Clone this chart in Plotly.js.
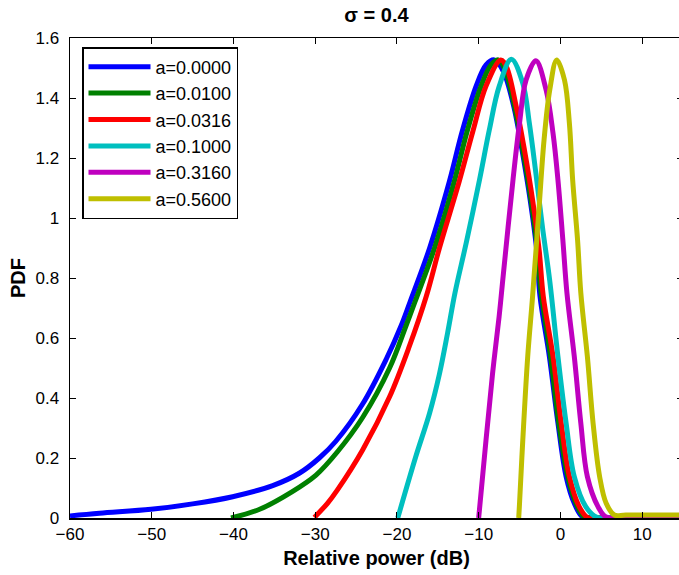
<!DOCTYPE html>
<html>
<head>
<meta charset="utf-8">
<script src="https://cdn.plot.ly/plotly-3.0.1.min.js"></script>
<style>
html, body { margin: 0; padding: 0; overflow: hidden; background: #fff; }
#chart { width: 683px; height: 575px; }
</style>
</head>
<body>
<div id="chart"></div>
<script>
// Series names
const seriesNames = ['a=0.0000', 'a=0.0100', 'a=0.0316', 'a=0.1000', 'a=0.3160', 'a=0.5600'];

// a = 0.0000 (blue)
const blueX = [-60, -56.4, -50.1, -45.0, -40.1, -35.2, -31.9, -29.5, -27.5, -24.2, -21.3, -19.5, -18.4, -16.0, -13.6, -12.0, -10.3, -9.1, -8.1, -7.0, -5.7, -4.7, -3.7, -2.9, -2.5, -1.35, -0.3, 0.7, 1.7, 2.7, 4.0, 8.0, 15.0];
const blueY = [0.007, 0.016, 0.029, 0.047, 0.071, 0.108, 0.150, 0.200, 0.255, 0.380, 0.530, 0.640, 0.720, 0.900, 1.120, 1.290, 1.440, 1.510, 1.527, 1.490, 1.371, 1.227, 1.060, 0.893, 0.740, 0.538, 0.316, 0.138, 0.049, 0.004, 0.002, 0.002, 0.002];

// a = 0.0100 (green)
const greenX = [-40.3, -36.8, -32.8, -29.9, -27.3, -24.2, -20.9, -18.9, -17.8, -15.4, -13.0, -11.4, -9.7, -8.5, -7.6, -6.8, -5.6, -4.6, -3.6, -2.8, -2.4, -1.2, -0.2, 0.9, 1.9, 2.9, 4.0, 8.0, 15.0];
const greenY = [0.000, 0.029, 0.088, 0.143, 0.220, 0.335, 0.500, 0.640, 0.720, 0.900, 1.120, 1.290, 1.440, 1.510, 1.527, 1.495, 1.371, 1.227, 1.060, 0.893, 0.760, 0.538, 0.316, 0.138, 0.049, 0.004, 0.002, 0.002, 0.002];

// a = 0.0316 (red)
const redX = [-30.1, -28.5, -27.3, -24.2, -20.9, -18.5, -16.4, -14.8, -12.4, -10.7, -9.1, -7.3, -6.6, -5.4, -4.4, -3.4, -2.6, -2.1, -0.9, 0.1, 1.1, 2.3, 3.3, 4.5, 8.0, 15.0];
const redY = [0.002, 0.049, 0.093, 0.227, 0.404, 0.571, 0.740, 0.900, 1.120, 1.290, 1.440, 1.527, 1.504, 1.371, 1.227, 1.060, 0.893, 0.740, 0.538, 0.316, 0.138, 0.038, 0.002, 0.002, 0.002, 0.002];

// a = 0.1000 (cyan)
const cyanX = [-19.9, -17.7, -16.0, -14.8, -13.8, -12.9, -11.5, -9.9, -8.7, -7.5, -6.0, -4.6, -3.8, -3.0, -2.2, -1.3, -0.3, 0.7, 1.7, 3.1, 4.4, 6.0, 8.0, 15.0];
const cyanY = [0.000, 0.204, 0.350, 0.480, 0.617, 0.750, 0.920, 1.127, 1.293, 1.438, 1.529, 1.449, 1.316, 1.149, 0.971, 0.790, 0.538, 0.316, 0.138, 0.038, 0.003, 0.002, 0.002, 0.002];

// a = 0.3160 (magenta)
const magX = [-10.0, -9.1, -8.3, -7.5, -7.1, -5.8, -5.0, -4.2, -3.0, -1.75, -0.9, -0.3, 0.3, 0.8, 1.7, 2.5, 3.3, 4.6, 5.6, 8.0, 15.0];
const magY = [0.000, 0.260, 0.482, 0.671, 0.780, 1.127, 1.316, 1.460, 1.524, 1.427, 1.282, 1.127, 0.927, 0.750, 0.538, 0.316, 0.138, 0.038, 0.003, 0.002, 0.002];

// a = 0.5600 (olive/yellow)
const yelX = [-5.1, -5.0, -4.6, -4.0, -3.4, -2.6, -2.0, -1.3, -0.45, 0.5, 1.1, 1.5, 2.1, 2.5, 3.3, 4.0, 4.8, 5.6, 6.6, 8.0, 15.0];
const yelY = [0.000, 0.049, 0.260, 0.538, 0.740, 1.038, 1.260, 1.427, 1.527, 1.460, 1.316, 1.127, 0.927, 0.750, 0.538, 0.316, 0.138, 0.049, 0.010, 0.010, 0.010];

const xTicks = [-60, -50, -40, -30, -20, -10, 0, 10];
const yTicks = [0, 0.2, 0.4, 0.6, 0.8, 1, 1.2, 1.4, 1.6];

const colors = ['#0000ff', '#008000', '#ff0000', '#00bfbf', '#bf00bf', '#bfbf00'];
const xs = [blueX, greenX, redX, cyanX, magX, yelX];
const ys = [blueY, greenY, redY, cyanY, magY, yelY];

const traces = seriesNames.map((name, i) => ({
  x: xs[i], y: ys[i], name: name, type: 'scatter', mode: 'lines',
  line: { color: colors[i], width: 5, shape: 'spline', smoothing: 1.0 }
}));

const fontFam = 'Liberation Sans, Arial, sans-serif';
const layout = {
  width: 683, height: 575,
  margin: { l: 70, r: 0, t: 38, b: 57 },
  paper_bgcolor: '#ffffff', plot_bgcolor: '#ffffff',
  font: { family: fontFam, size: 17, color: '#000' },
  title: {
    text: 'σ = 0.4', x: 0.5, xref: 'paper', y: 1 - 15 / 575, yref: 'container', yanchor: 'middle',
    font: { family: fontFam, size: 20, weight: 'bold', color: '#000' }
  },
  xaxis: {
    range: [-60, 15], tickvals: xTicks, ticks: 'inside', ticklen: 6, tickcolor: '#000', tickwidth: 1,
    showline: true, linecolor: '#000', linewidth: 1.5, mirror: 'ticks',
    showgrid: false, zeroline: false,
    tickfont: { family: fontFam, size: 17, color: '#000' },
    title: { text: 'Relative power (dB)', standoff: 8, font: { family: fontFam, size: 20, weight: 'bold', color: '#000' } }
  },
  yaxis: {
    range: [0, 1.6], tickvals: yTicks, ticks: 'inside', ticklen: 6, tickcolor: '#000', tickwidth: 1,
    showline: true, linecolor: '#000', linewidth: 1.5, mirror: 'ticks',
    showgrid: false, zeroline: false, ticklabelstandoff: 6,
    tickfont: { family: fontFam, size: 17, color: '#000' },
    title: { text: 'PDF', standoff: 4, font: { family: fontFam, size: 20, weight: 'bold', color: '#000' } }
  },
  showlegend: true,
  legend: {
    x: 12 / 613, y: 1 - 9 / 480, xanchor: 'left', yanchor: 'top',
    bgcolor: '#ffffff', bordercolor: '#000', borderwidth: 1.5,
    font: { family: fontFam, size: 18, color: '#000' },
    itemwidth: 62, tracegroupgap: 0
  }
};

Plotly.newPlot('chart', traces, layout, { displayModeBar: false, staticPlot: true });
</script>
</body>
</html>
